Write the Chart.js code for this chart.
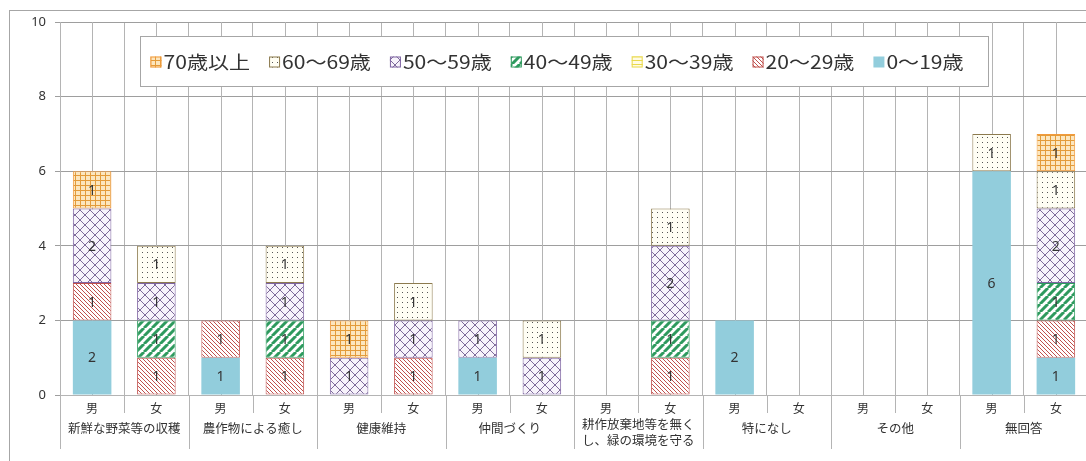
<!DOCTYPE html>
<html lang="ja">
<head>
<meta charset="utf-8">
<script src="https://cdn.jsdelivr.net/npm/chart.js@4.4.1/dist/chart.umd.min.js"></script>
<style>
  html, body { margin: 0; padding: 0; background: #fff; }
  #wrap { width: 1086px; height: 461px; overflow: hidden; }
  canvas { display: block; }
</style>
</head>
<body>
<div id="wrap"><canvas id="chart-area" width="1090" height="461"></canvas></div>
<script>
// 区分と性別
var groups = ['新鮮な野菜等の収穫', '農作物による癒し', '健康維持', '仲間づくり',
              ['耕作放棄地等を無く', 'し、緑の環境を守る'], '特になし', 'その他', '無回答'];
var sexes = ['男', '女'];

// 年代別の人数（男・女の順、区分ごと）
var age0_19  = [2, 0, 1, 0, 0, 0, 1, 0, 0, 0, 2, 0, 0, 0, 6, 1];
var age20_29 = [1, 1, 1, 1, 0, 1, 0, 0, 0, 1, 0, 0, 0, 0, 0, 1];
var age30_39 = [0, 0, 0, 0, 0, 0, 0, 0, 0, 0, 0, 0, 0, 0, 0, 0];
var age40_49 = [0, 1, 0, 1, 0, 0, 0, 0, 0, 1, 0, 0, 0, 0, 0, 1];
var age50_59 = [2, 1, 0, 1, 1, 1, 1, 1, 0, 2, 0, 0, 0, 0, 0, 2];
var age60_69 = [0, 1, 0, 1, 0, 1, 0, 1, 0, 1, 0, 0, 0, 0, 1, 1];
var age70    = [1, 0, 0, 0, 1, 0, 0, 0, 0, 0, 0, 0, 0, 0, 0, 1];

var yTicks = [0, 2, 4, 6, 8, 10];

var labels = [];
groups.forEach(function () { labels.push(sexes[0], sexes[1]); });

var canvas = document.getElementById('chart-area');
var ctx = canvas.getContext('2d');

function makePattern(size, bg, draw) {
  var c = document.createElement('canvas');
  c.width = c.height = size;
  var g = c.getContext('2d');
  if (bg) { g.fillStyle = bg; g.fillRect(0, 0, size, size); }
  draw(g, size);
  return ctx.createPattern(c, 'repeat');
}
function diag(g, s, color, w, up) {
  g.strokeStyle = color; g.lineWidth = w;
  g.beginPath();
  [-s, 0, s].forEach(function (o) {
    if (up) { g.moveTo(o, s); g.lineTo(o + s, 0); }
    else { g.moveTo(o, 0); g.lineTo(o + s, s); }
  });
  g.stroke();
}

var fills = {
  blue: '#92CDDC',
  red: makePattern(4, '#fff', function (g, s) { diag(g, s, '#C0504D', 1, false); }),
  yellow: makePattern(4, '#FFFBE3', function (g, s) { g.fillStyle = '#E9D94C'; g.fillRect(0, 0, s, 1); }),
  green: makePattern(8, '#fff', function (g, s) { diag(g, s, '#2E9A5E', 3, true); }),
  cross: makePattern(10, '#F7F3FB', function (g, s) {
    diag(g, s, '#6F5B8E', 0.9, true); diag(g, s, '#6F5B8E', 0.9, false);
  }),
  dots: makePattern(5, '#FFFEF4', function (g) { g.fillStyle = '#555'; g.fillRect(2, 2, 1, 1); }),
  grid: makePattern(5, '#FCE6BE', function (g, s) {
    g.fillStyle = '#E39B3A'; g.fillRect(0, 0, s, 1); g.fillRect(0, 0, 1, s);
  })
};

function series(label, data, bg, border) {
  return {
    label: label,
    data: data.map(function (v) { return v || null; }),
    backgroundColor: bg,
    borderColor: border || bg,
    borderWidth: border ? 1 : 0,
    borderSkipped: false,
    barPercentage: 0.6,
    categoryPercentage: 1
  };
}

var datasets = [
  series('0～19歳', age0_19, fills.blue),
  series('20～29歳', age20_29, fills.red, '#C0504D'),
  series('30～39歳', age30_39, fills.yellow, '#E9D94C'),
  series('40～49歳', age40_49, fills.green, '#2E9A5E'),
  series('50～59歳', age50_59, fills.cross, '#7E64A2'),
  series('60～69歳', age60_69, fills.dots, '#8C7A4E'),
  series('70歳以上', age70, fills.grid, '#F29A3C')
];

var lineColor = '#B4B4B4';
var textColor = '#333';
var jp = '"Noto Sans CJK JP", sans-serif';

// 外枠と区分の中心線
var framePlugin = {
  id: 'frame',
  beforeDraw: function (chart) {
    var c = chart.ctx;
    c.save();
    c.strokeStyle = '#A6A6A6';
    c.lineWidth = 1;
    c.strokeRect(9.5, 10.5, chart.width + 20, chart.height + 20);
    c.restore();
  },
  beforeDatasetsDraw: function (chart) {
    var c = chart.ctx, xs = chart.scales.x, area = chart.chartArea;
    c.save();
    c.strokeStyle = lineColor;
    c.lineWidth = 1;
    c.beginPath();
    labels.forEach(function (l, i) {
      var x = Math.round(xs.getPixelForValue(i)) + 0.5;
      c.moveTo(x, area.top); c.lineTo(x, area.bottom);
    });
    c.stroke();
    c.restore();
  }
};

// 値ラベル
var valuePlugin = {
  id: 'values',
  afterDatasetsDraw: function (chart) {
    var c = chart.ctx;
    c.save();
    c.font = '14px "Noto Sans", sans-serif';
    c.fillStyle = textColor;
    c.textAlign = 'center';
    c.textBaseline = 'middle';
    chart.data.datasets.forEach(function (ds, di) {
      chart.getDatasetMeta(di).data.forEach(function (bar, i) {
        var v = ds.data[i];
        if (!v) return;
        c.fillText(String(v), bar.x, (bar.y + bar.base) / 2 + 1);
      });
    });
    c.restore();
  }
};

// 区分ラベルと区切り線
var groupPlugin = {
  id: 'groups',
  afterDraw: function (chart) {
    var c = chart.ctx, xs = chart.scales.x, area = chart.chartArea;
    var catW = xs.width / labels.length;
    c.save();
    c.strokeStyle = lineColor;
    c.lineWidth = 1;
    c.beginPath();
    for (var i = 0; i <= labels.length; i++) {
      var x = Math.round(xs.left + i * catW) + 0.5;
      c.moveTo(x, area.bottom);
      c.lineTo(x, area.bottom + (i % 2 === 0 ? 54 : 18));
    }
    c.stroke();
    c.font = '12.5px ' + jp;
    c.fillStyle = textColor;
    c.textAlign = 'center';
    c.textBaseline = 'middle';
    groups.forEach(function (g, gi) {
      var cx = (xs.getPixelForValue(gi * 2) + xs.getPixelForValue(gi * 2 + 1)) / 2;
      if (Array.isArray(g)) {
        c.fillText(g[0], cx, area.bottom + 29);
        c.fillText(g[1], cx, area.bottom + 45);
      } else {
        c.fillText(g, cx, area.bottom + 33);
      }
    });
    c.restore();
  }
};

// 凡例（グラフ内）
var legendPlugin = {
  id: 'boxLegend',
  afterDatasetsDraw: function (chart) {
    var c = chart.ctx;
    var items = chart.data.datasets.slice().reverse();
    var box = { x: 140.5, y: 36.5, w: 848, h: 50 };
    var sx = 1.17;
    c.save();
    c.fillStyle = '#fff';
    c.strokeStyle = '#A6A6A6';
    c.lineWidth = 1;
    c.fillRect(box.x, box.y, box.w, box.h);
    c.strokeRect(box.x, box.y, box.w, box.h);
    c.font = '18px ' + jp;
    c.textBaseline = 'middle';
    c.fillStyle = textColor;
    var x = box.x + 10, cy = box.y + box.h / 2;
    items.forEach(function (ds) {
      c.fillStyle = ds.backgroundColor;
      c.fillRect(x, cy - 5, 11, 11);
      if (ds.borderWidth) {
        c.strokeStyle = ds.borderColor;
        c.strokeRect(x + 0.5, cy - 4.5, 10, 10);
      }
      x += 13;
      var w = c.measureText(ds.label).width * sx;
      c.save();
      c.translate(x, cy);
      c.scale(sx, 1);
      c.fillStyle = textColor;
      c.fillText(ds.label, 0, 1);
      c.restore();
      x += w + 19;
    });
    c.restore();
  }
};

new Chart(ctx, {
  type: 'bar',
  data: { labels: labels, datasets: datasets },
  plugins: [framePlugin, valuePlugin, legendPlugin, groupPlugin],
  options: {
    responsive: false,
    animation: false,
    layout: { padding: { top: 22, right: 2, bottom: 0, left: 0 } },
    plugins: { legend: { display: false }, tooltip: { enabled: false } },
    scales: {
      x: {
        stacked: true,
        grid: { offset: true, color: lineColor, drawTicks: false },
        border: { color: lineColor },
        ticks: {
          color: textColor, padding: 6, maxRotation: 0, autoSkip: false,
          font: { family: '"Noto Sans CJK JP", sans-serif', size: 12 }
        },
        afterFit: function (s) { s.height = 66; }
      },
      y: {
        stacked: true,
        min: 0, max: 10,
        afterBuildTicks: function (s) { s.ticks = yTicks.map(function (v) { return { value: v }; }); },
        grid: { color: '#9E9E9E', tickLength: 5 },
        border: { color: lineColor },
        ticks: {
          color: textColor, padding: 9,
          font: { family: '"Noto Sans", sans-serif', size: 13 }
        },
        afterFit: function (s) { s.width = 60; }
      }
    }
  }
});
</script>
</body>
</html>
